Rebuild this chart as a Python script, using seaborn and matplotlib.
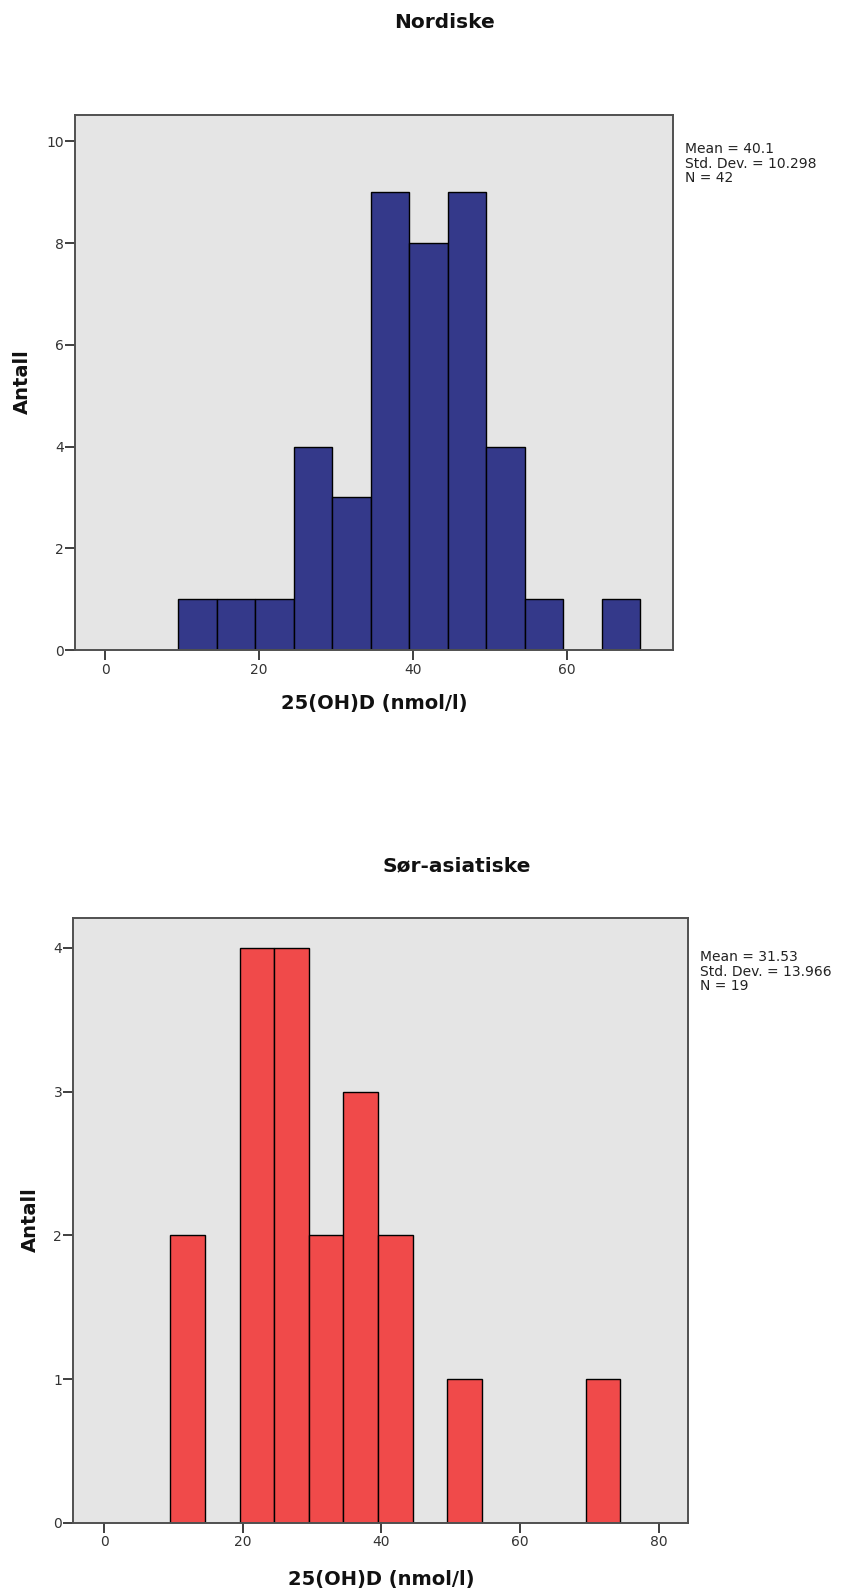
import matplotlib
matplotlib.use("Agg")
import matplotlib.pyplot as plt
import seaborn as sns
import numpy as np
import pandas as pd

# ---- data ----
bin_width = 5
nord_bin_starts = [9.5, 14.5, 19.5, 24.5, 29.5, 34.5, 39.5, 44.5, 49.5, 54.5, 59.5, 64.5]
nord_counts = [1, 1, 1, 4, 3, 9, 8, 9, 4, 1, 0, 1]
sor_bin_starts = [9.5, 14.5, 19.5, 24.5, 29.5, 34.5, 39.5, 44.5, 49.5, 54.5, 59.5, 64.5, 69.5]
sor_counts = [2, 0, 4, 4, 2, 3, 2, 0, 1, 0, 0, 0, 1]
nord_title = "Nordiske"
sor_title = "Sør-asiatiske"
nord_stats = "Mean = 40.1\nStd. Dev. = 10.298\nN = 42"
sor_stats = "Mean = 31.53\nStd. Dev. = 13.966\nN = 19"
x_label = "25(OH)D (nmol/l)"
y_label = "Antall"
nord_xticks = [0, 20, 40, 60]
nord_yticks = [0, 2, 4, 6, 8, 10]
sor_xticks = [0, 20, 40, 60, 80]
sor_yticks = [0, 1, 2, 3, 4]

sns.set_style("white", {"axes.facecolor": "#E5E5E5", "axes.edgecolor": "#505050"})
plt.rcParams["font.family"] = ["DejaVu Sans"]

W, H = 848, 1596
fig = plt.figure(figsize=(W / 100, H / 100), dpi=100)
fig.patch.set_facecolor("white")


def px_axes(left, top, right, bottom):
    return fig.add_axes([left / W, 1 - bottom / H, (right - left) / W, (bottom - top) / H])


def draw(ax, starts, counts, color, xlim, ylim, xticks, yticks):
    edges = list(starts) + [starts[-1] + bin_width]
    centers = [s + bin_width / 2 for s in starts]
    df = pd.DataFrame({"x": centers, "w": counts})
    sns.histplot(data=df, x="x", weights="w", bins=edges, ax=ax,
                 color=color, alpha=1.0, edgecolor="black", linewidth=1.0)
    ax.set_xlim(*xlim)
    ax.set_ylim(*ylim)
    ax.set_xticks(xticks)
    ax.set_yticks(yticks)
    ax.set_xlabel("")
    ax.set_ylabel("")
    for s in ax.spines.values():
        s.set_linewidth(1.4)
        s.set_color("#505050")
    ax.tick_params(axis="both", which="both", direction="out", length=7, width=1.3,
                   color="#303030", labelsize=10, labelcolor="#333333",
                   left=True, bottom=True, top=False, right=False)
    ax.tick_params(axis="y", pad=1)
    ax.tick_params(axis="x", pad=2)


ax1 = px_axes(75.3, 115, 673.3, 650)
draw(ax1, nord_bin_starts, nord_counts, "#34398A", (-3.9, 73.8), (0, 10.52),
     nord_xticks, nord_yticks)
ax2 = px_axes(73.3, 917.5, 688.3, 1523)
draw(ax2, sor_bin_starts, sor_counts, "#F04A4A", (-4.5, 84.3), (0, 4.21),
     sor_xticks, sor_yticks)

# titles
fig.text(445 / W, 1 - 22 / H, nord_title, ha="center", va="center",
         fontsize=14.5, fontweight="bold", color="#111111")
fig.text(457 / W, 1 - 866 / H, sor_title, ha="center", va="center",
         fontsize=14.5, fontweight="bold", color="#111111")

# axis labels
fig.text(374 / W, 1 - 703 / H, x_label, ha="center", va="center",
         fontsize=14, fontweight="bold", color="#111111")
fig.text(381 / W, 1 - 1579 / H, x_label, ha="center", va="center",
         fontsize=14, fontweight="bold", color="#111111")
fig.text(22 / W, 1 - 382 / H, y_label, ha="center", va="center", rotation=90,
         fontsize=14, fontweight="bold", color="#111111")
fig.text(30 / W, 1 - 1220 / H, y_label, ha="center", va="center", rotation=90,
         fontsize=14, fontweight="bold", color="#111111")

# stats
fig.text(685 / W, 1 - 142 / H, nord_stats, ha="left", va="top",
         fontsize=10, linespacing=1.05, color="#222222")
fig.text(700 / W, 1 - 950 / H, sor_stats, ha="left", va="top",
         fontsize=10, linespacing=1.05, color="#222222")

fig.savefig("out.png", dpi=100, facecolor="white")
